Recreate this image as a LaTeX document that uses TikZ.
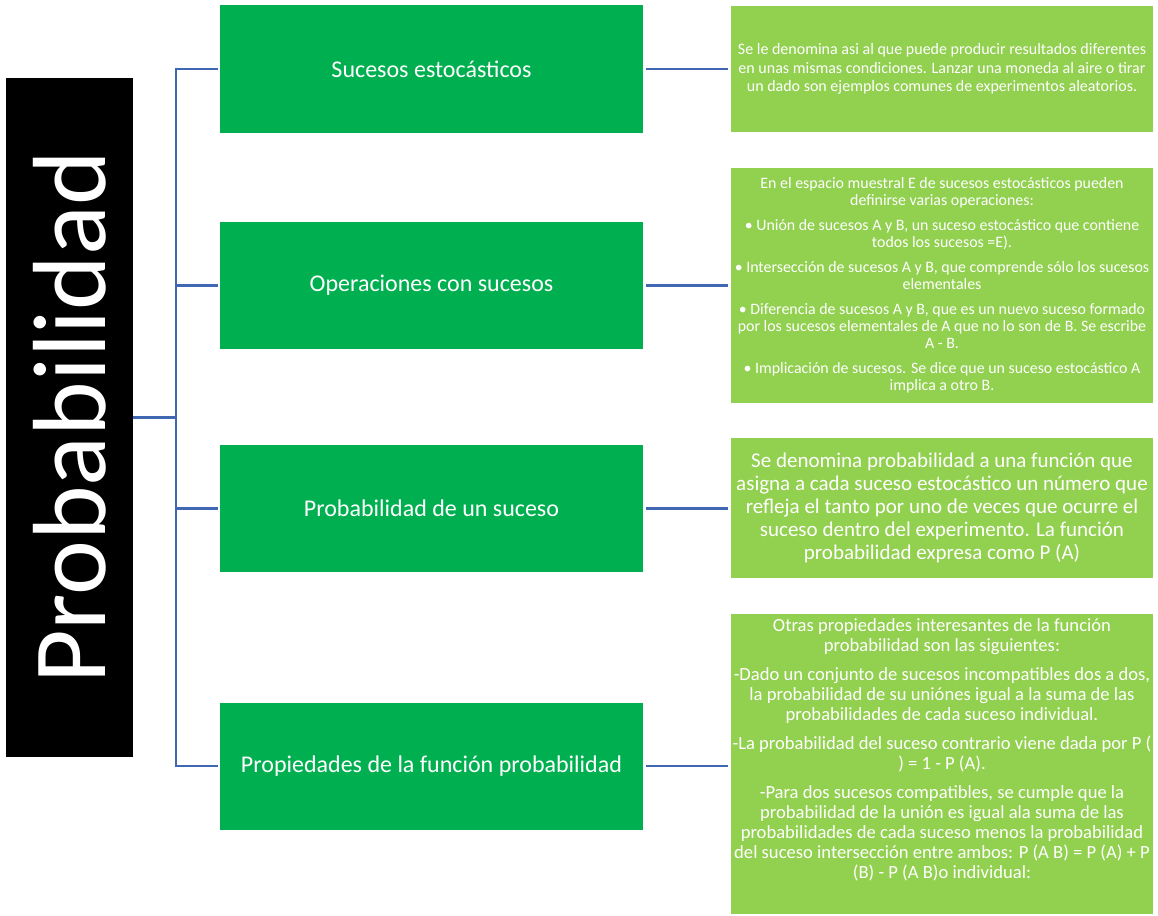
\documentclass[tikz,border=0pt]{standalone}
\usepackage{fontspec}
\usepackage{graphicx}
\setmainfont{Carlito}
\definecolor{vertfonce}{HTML}{00B050}
\definecolor{vertclair}{HTML}{92D050}
\definecolor{bleutrait}{HTML}{4068B2}
\tikzset{
  theme/.style={fill=vertfonce, text=white, minimum width=423pt, minimum height=127pt,
    inner sep=0pt, font=\fontsize{24}{29}\selectfont},
  detail/.style={fill=vertclair, text=white, minimum width=422pt, inner xsep=0.5pt,
    inner ysep=0pt, align=center},
  trait/.style={draw=bleutrait, line width=2.2pt},
}
\begin{document}
\begin{tikzpicture}[x=1pt, y=-1pt]
    \useasboundingbox (0,0) rectangle (1158,915);

    % Bloc principal
    \node[fill=black, text=white, minimum width=127pt, minimum height=679pt, inner sep=0pt,
      font=\fontsize{104}{104}\selectfont] (racine) at (69.5,417.5) {\rotatebox{90}{Probabilidad}};

    % Thèmes
    \node[theme] (theme1) at (431.5,69) {Sucesos estocásticos};
    \node[theme] (theme2) at (431.5,285.5) {Operaciones con sucesos};
    \node[theme] (theme3) at (431.5,508.5) {Probabilidad de un suceso};
    \node[theme] (theme4) at (431.5,766) {Propiedades de la función probabilidad};

    % Explications
    \node[detail, minimum height=126pt, font=\fontsize{16}{18.5}\selectfont] (detail1) at (942,69)
      {Se le denomina asi al que puede producir resultados diferentes\\
       en unas mismas condiciones. Lanzar una moneda al aire o tirar\\
       un dado son ejemplos comunes de experimentos aleatorios.};
    \node[detail, minimum height=235pt, font=\fontsize{15.9}{17}\selectfont] (detail2) at (942,285.5)
      {En el espacio muestral E de sucesos estocásticos pueden\\
       definirse varias operaciones:\\[8pt]
       \textbullet\ Unión de sucesos A y B, un suceso estocástico que contiene\\
       todos los sucesos =E).\\[8pt]
       \textbullet\ Intersección de sucesos A y B, que comprende sólo los sucesos\\
       elementales\\[8pt]
       \textbullet\ Diferencia de sucesos A y B, que es un nuevo suceso formado\\
       por los sucesos elementales de A que no lo son de B. Se escribe\\
       A - B.\\[8pt]
       \textbullet\ Implicación de sucesos. Se dice que un suceso estocástico A\\
       implica a otro B.};
    \node[detail, minimum height=140pt, font=\fontsize{21}{23}\selectfont] (detail3) at (942,508)
      {Se denomina probabilidad a una función que\\
       asigna a cada suceso estocástico un número que\\
       refleja el tanto por uno de veces que ocurre el\\
       suceso dentro del experimento. La función\\
       probabilidad expresa como P (A)};
    \node[detail, minimum height=300pt, font=\fontsize{18.6}{20}\selectfont] (detail4) at (942,764)
      {Otras propiedades interesantes de la función\\
       probabilidad son las siguientes:\\[9pt]
       -Dado un conjunto de sucesos incompatibles dos a dos,\\
       la probabilidad de su uniónes igual a la suma de las\\
       probabilidades de cada suceso individual.\\[9pt]
       -La probabilidad del suceso contrario viene dada por P (\\
       ) = 1 - P (A).\\[9pt]
       -Para dos sucesos compatibles, se cumple que la\\
       probabilidad de la unión es igual ala suma de las\\
       probabilidades de cada suceso menos la probabilidad\\
       del suceso intersección entre ambos: P (A B) = P (A) + P\\
       (B) - P (A B)o individual:\\[10pt]};

    % Liaisons
    \coordinate (axe) at (176,417.5);
    \draw[trait] (racine.east) -- (axe);
    \foreach \i in {1,...,4}
      \draw[trait, shorten >=2pt] (axe) |- (theme\i.west);
    \foreach \i in {1,...,4}
      \draw[trait, shorten <=3pt, shorten >=3pt] (theme\i.east) -- (detail\i.west |- theme\i.east);
\end{tikzpicture}
\end{document}
